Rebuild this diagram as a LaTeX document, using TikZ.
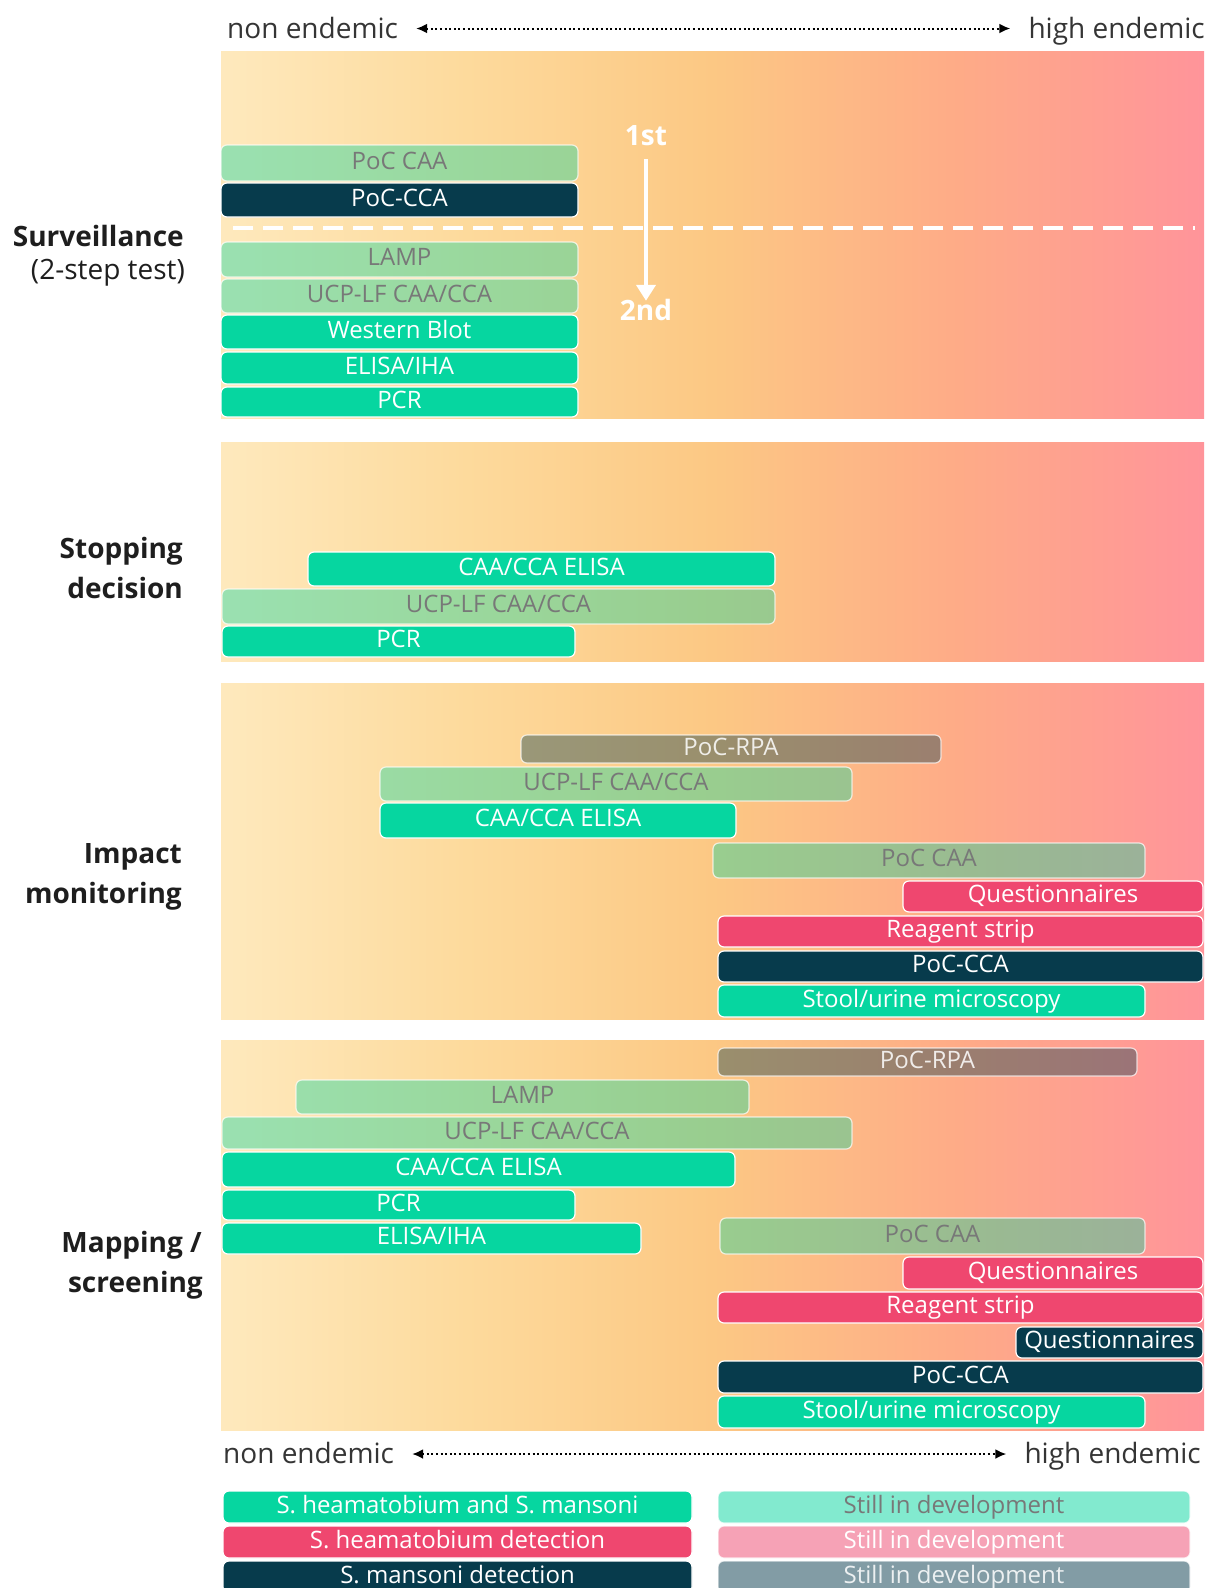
\documentclass[tikz,border=0pt]{standalone}
\usepackage{fontspec}
\setmainfont{Open Sans}
\usetikzlibrary{arrows.meta}

% palette
\definecolor{mteal}{HTML}{06D6A0}
\definecolor{mred}{HTML}{EF476F}
\definecolor{mnavy}{HTML}{073B4C}
\definecolor{devgray}{HTML}{787878}
\definecolor{inkdark}{HTML}{1E1E1E}
\definecolor{g0}{HTML}{FEE9BD}
\definecolor{g1}{HTML}{FDDA9C}
\definecolor{g2}{HTML}{FCC884}
\definecolor{g3}{HTML}{FEAB87}
\definecolor{g4}{HTML}{FF949A}

% background of each use-case panel: non endemic (left) to high endemic (right)
\pgfdeclarehorizontalshading{endemic}{100bp}{color(0bp)=(g0); color(25bp)=(g0);
  color(37.5bp)=(g1); color(50bp)=(g2); color(62.5bp)=(g3); color(75bp)=(g4); color(100bp)=(g4)}

% one test bar: name, x1, y1, x2, y2, style, label
\newcommand{\testbar}[7]{%
  \node[bar,#6,minimum width={(#4)-(#2)},minimum height={(#5)-(#3)}]
    (#1) at ({((#2)+(#4))/2},{((#3)+(#5))/2}) {#7};}

\tikzset{
  panel/.style={shading=endemic, draw=none},
  bar/.style={rectangle, rounded corners=6pt, draw=white, line width=1.2pt,
    inner sep=0pt, font=\fontsize{24}{28}\selectfont,
    text height=17.5pt, text depth=5pt, text=white},
  solidteal/.style={fill=mteal},
  solidred/.style={fill=mred},
  solidnavy/.style={fill=mnavy},
  devteal/.style={fill=mteal, fill opacity=0.4, draw opacity=0.7, text opacity=1, text=devgray},
  devnavy/.style={fill=mnavy, fill opacity=0.4, draw opacity=0.7, text opacity=0.85, text=white},
  legteal/.style={fill=mteal, fill opacity=0.5, draw opacity=0.7, text opacity=1, text=devgray},
  legred/.style={fill=mred, fill opacity=0.5, draw opacity=0.7, text opacity=1, text=white},
  legnavy/.style={fill=mnavy, fill opacity=0.5, draw opacity=0.7, text opacity=0.85, text=white},
  scale label/.style={font=\fontsize{28}{32}\selectfont, text=inkdark!90, inner sep=0pt,
    text height=21pt, text depth=2pt},
  scale arrow/.style={line width=2pt, dash pattern=on 2pt off 2.6pt,
    {Latex[length=11pt,width=10pt]}-{Latex[length=11pt,width=10pt]},
    shorten <=18pt, shorten >=18pt},
  usecase/.style={font=\bfseries\fontsize{28}{32}\selectfont, text=inkdark, inner sep=0pt, anchor=base east},
  usecasesub/.style={font=\fontsize{28}{32}\selectfont, text=inkdark, inner sep=0pt, anchor=base east},
  stepmark/.style={font=\bfseries\fontsize{28}{32}\selectfont, text=white, inner sep=0pt,
    anchor=base, text height=19pt, text depth=0pt},
}

\begin{document}
\begin{tikzpicture}[x=1pt, y=-1pt]
\clip (0,0) rectangle (1209,1588);
\fill[white] (0,0) rectangle (1209,1588);

% endemicity scale, top
\node[scale label, anchor=base west] (ntop) at (227,38) {non endemic};
\node[scale label, anchor=base east] (htop) at (1205,38) {high endemic};
\draw[scale arrow] (ntop.east) -- (htop.west);

% panels
\path[panel] (221,51) rectangle (1204,418);
\path[panel] (221,442.5) rectangle (1204,661);
\path[panel] (221,683.5) rectangle (1204,1019);
\path[panel] (221,1040) rectangle (1204,1430);

% use cases
\node[usecase] (surv) at (184,246) {Surveillance};
\node[usecasesub] (survsub) at (185,279) {(2-step test)};
\node[usecase] (stop1) at (183,558) {Stopping};
\node[usecase] (stop2) at (183,598) {decision};
\node[usecase] (imp1) at (182,863) {Impact};
\node[usecase] (imp2) at (182,903) {monitoring};
\node[usecase] (map1) at (202,1252) {Mapping /};
\node[usecase] (map2) at (203,1292) {screening};

% surveillance: first and second step
\draw[white, line width=4pt, dash pattern=on 20pt off 10pt] (233,228) -- (1195,228);
\testbar{sa}{221}{145}{578}{181}{devteal}{PoC CAA}
\testbar{sb}{221}{183}{578}{217}{solidnavy}{PoC-CCA}
\testbar{sc}{221}{242}{578}{277}{devteal}{LAMP}
\testbar{sd}{221}{279}{578}{313}{devteal}{UCP-LF CAA/CCA}
\testbar{se}{221}{315}{578}{349}{solidteal}{Western Blot}
\testbar{sf}{221}{352}{578}{384}{solidteal}{ELISA/IHA}
\testbar{sg}{221}{387}{578}{417}{solidteal}{PCR}
\node[stepmark] (first) at (646,145) {1st};
\node[stepmark] (second) at (646,320) {2nd};
\draw[white, line width=4pt, -{Triangle[length=16pt,width=19pt]}, shorten <=14pt]
  (first.south) -- (second.north);

% stopping decision
\testbar{ta}{308}{552}{775}{586}{solidteal}{CAA/CCA ELISA}
\testbar{tb}{222}{589}{775}{624}{devteal}{UCP-LF CAA/CCA}
\testbar{tc}{222}{626}{575}{657}{solidteal}{PCR}

% impact monitoring
\testbar{ia}{521}{735}{941}{763}{devnavy}{PoC-RPA}
\testbar{ib}{380}{767}{852}{801}{devteal}{UCP-LF CAA/CCA}
\testbar{ic}{380}{803}{736}{838}{solidteal}{CAA/CCA ELISA}
\testbar{id}{713}{843}{1145}{878}{devteal}{PoC CAA}
\testbar{ie}{903}{881}{1203}{912}{solidred}{Questionnaires}
\testbar{if}{718}{916}{1203}{947}{solidred}{Reagent strip}
\testbar{ig}{718}{951}{1203}{982}{solidnavy}{PoC-CCA}
\testbar{ih}{718}{985}{1145}{1017}{solidteal}{Stool/urine microscopy}

% mapping / screening
\testbar{ma}{718}{1048}{1137}{1076}{devnavy}{PoC-RPA}
\testbar{mb}{296}{1080}{749}{1114}{devteal}{LAMP}
\testbar{mc}{222}{1117}{852}{1149}{devteal}{UCP-LF CAA/CCA}
\testbar{md}{222}{1152}{735}{1187}{solidteal}{CAA/CCA ELISA}
\testbar{me}{222}{1190}{575}{1220}{solidteal}{PCR}
\testbar{mf}{222}{1223}{641}{1254}{solidteal}{ELISA/IHA}
\testbar{mg}{720}{1218}{1145}{1254}{devteal}{PoC CAA}
\testbar{mh}{903}{1257}{1203}{1289}{solidred}{Questionnaires}
\testbar{mi}{718}{1292}{1203}{1323}{solidred}{Reagent strip}
\testbar{mj}{1016}{1327}{1203}{1358}{solidnavy}{Questionnaires}
\testbar{mk}{718}{1361}{1203}{1393}{solidnavy}{PoC-CCA}
\testbar{ml}{718}{1396}{1145}{1428}{solidteal}{Stool/urine microscopy}

% endemicity scale, bottom
\node[scale label, anchor=base west] (nbot) at (223,1463.5) {non endemic};
\node[scale label, anchor=base east] (hbot) at (1201,1463.5) {high endemic};
\draw[scale arrow] (nbot.east) -- (hbot.west);

% legend
\testbar{la}{223}{1491}{692}{1523}{solidteal}{S. heamatobium and S. mansoni}
\testbar{lb}{223}{1526}{692}{1558}{solidred}{S. heamatobium detection}
\testbar{lc}{223}{1561}{692}{1593}{solidnavy}{S. mansoni detection}
\testbar{ld}{718}{1491}{1190}{1523}{legteal}{Still in development}
\testbar{le}{718}{1526}{1190}{1558}{legred}{Still in development}
\testbar{lf}{718}{1561}{1190}{1593}{legnavy}{Still in development}
\end{tikzpicture}
\end{document}
